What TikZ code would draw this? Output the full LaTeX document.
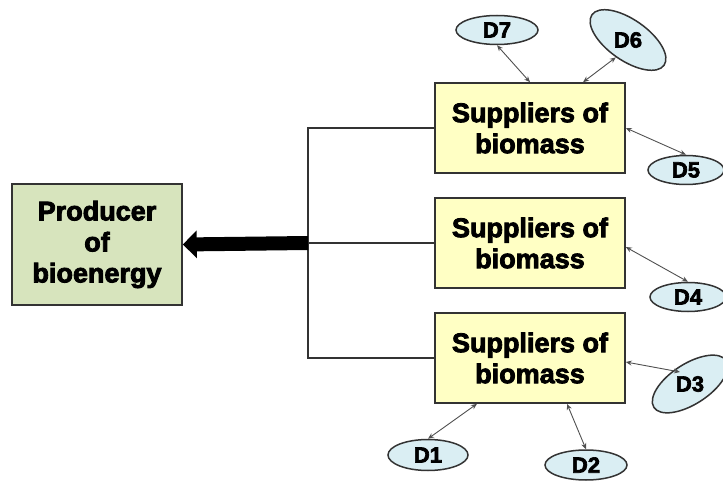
\documentclass[tikz,border=0pt]{standalone}
\usepackage{fontspec}
\newfontfamily\heavy{Liberation Sans}[BoldFeatures={FakeBold=3}]
\usetikzlibrary{arrows.meta,shapes.geometric}
\definecolor{edgegray}{HTML}{333333}
\definecolor{linkgray}{HTML}{505050}
\definecolor{prodgreen}{HTML}{D7E4BD}
\definecolor{supyellow}{HTML}{FFFFC4}
\definecolor{dblue}{HTML}{DAEEF3}
\tikzset{
  boxbase/.style={draw=edgegray, line width=1.6pt, align=center, inner sep=0pt,
    font=\heavy\bfseries\fontsize{27}{31}\selectfont},
  producer/.style={boxbase, fill=prodgreen, minimum width=170pt, minimum height=121pt},
  supplier/.style={boxbase, fill=supyellow, minimum width=190pt, minimum height=90pt},
  dnode/.style={ellipse, draw=edgegray, line width=1.5pt, fill=dblue, inner sep=0pt,
    minimum width=82pt, minimum height=29pt, font=\heavy\bfseries\fontsize{22}{24}\selectfont},
  trunk/.style={draw=edgegray, line width=1.5pt},
  link/.style={draw=linkgray, line width=0.9pt, {Stealth[length=6pt,width=5pt]}-{Stealth[length=6pt,width=5pt]}},
  bigarrow/.style={draw=black, line width=14pt, -{Triangle[length=14pt,width=27pt]}}
}
\begin{document}
\begin{tikzpicture}[x=1pt, y=-1pt]
  \useasboundingbox (0,0) rectangle (723,481);

  % main nodes
  \node[producer] (prod) at (97,244.5) {Producer\\of\\bioenergy};
  \node[supplier] (s1) at (530,128) {Suppliers of\\biomass};
  \node[supplier] (s2) at (530,243) {Suppliers of\\biomass};
  \node[supplier] (s3) at (530,358) {Suppliers of\\biomass};

  % satellite ellipses
  \node[dnode] (d7) at (497,30) {D7};
  \node[dnode, rotate=-35, minimum width=88pt, minimum height=32pt] (d6) at (628,40) {\rotatebox{35}{D6}};
  \node[dnode, minimum width=76pt] (d5) at (686,170) {D5};
  \node[dnode, minimum width=76pt] (d4) at (688,297) {D4};
  \node[dnode, rotate=33, minimum width=86pt, minimum height=33pt] (d3) at (690,384) {\rotatebox{-33}{D3}};
  \node[dnode, minimum width=80pt, minimum height=31pt] (d1) at (428,455) {D1};
  \node[dnode, minimum width=82pt, minimum height=30pt] (d2) at (586,465) {D2};

  % trunk joining the suppliers
  \coordinate (j) at (308,243);
  \draw[trunk] (s1.west) -| (j) |- (s3.west);
  \draw[trunk] (j) -- (s2.west);
  \draw[bigarrow] (j) -- (prod.east);

  % two-way links
  \draw[link] (d7.south) -- (s1.north);
  \draw[link] (d6.south) -- ([xshift=53pt]s1.north);
  \draw[link] (s1.east) -- (d5.north);
  \draw[link] ([yshift=-4pt]s2.east) -- (d4.north);
  \draw[link] ([yshift=-4pt]s3.east) -- ([shift={(-10,-12)}]d3.center);
  \draw[link] ([xshift=-53pt]s3.south) -- (d1.north);
  \draw[link] ([xshift=37pt]s3.south) -- (d2.north);
\end{tikzpicture}
\end{document}
